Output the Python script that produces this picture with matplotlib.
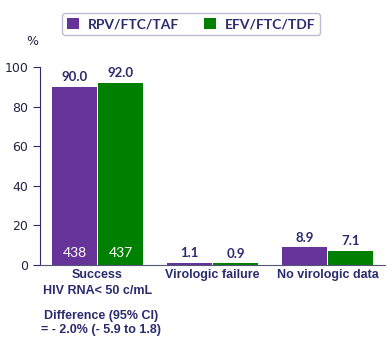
import matplotlib
matplotlib.use('Agg')
import matplotlib.pyplot as plt
import numpy as np

categories = ['Success\nHIV RNA< 50 c/mL', 'Virologic failure', 'No virologic data']
rpv = [90.0, 1.1, 8.9]
efv = [92.0, 0.9, 7.1]
n_counts = ['438', '437']
series_names = ['RPV/FTC/TAF', 'EFV/FTC/TDF']

purple = '#663399'
green = '#008000'
navy = '#2b2b6e'

fig = plt.figure(figsize=(3.92, 3.41), dpi=100)
ax = fig.add_axes([0.102, 0.223, 0.88, 0.58])

x = np.arange(len(categories))
w = 0.385
b1 = ax.bar(x - 0.2, rpv, w, color=purple, label=series_names[0])
b2 = ax.bar(x + 0.2, efv, w, color=green, label=series_names[1])

for bars in (b1, b2):
    for rect in bars:
        h = rect.get_height()
        ax.text(rect.get_x() + rect.get_width() / 2, h + 1.8, '%.1f' % h,
                ha='center', va='bottom', fontsize=9.5, fontweight='bold',
                color=navy, family='Lato')

# patient counts inside the success bars
for rect, n in zip([b1[0], b2[0]], n_counts):
    ax.text(rect.get_x() + rect.get_width() / 2, 6, n, ha='center', va='center',
            fontsize=10, color='white', family='Lato')

ax.set_xlim(-0.5, 2.5)
ax.set_ylim(0, 100)
ax.set_yticks([0, 20, 40, 60, 80, 100])
ax.set_xticks(x)
ax.set_xticklabels(categories, fontsize=9, fontweight='bold', color=navy,
                   family='Liberation Sans', linespacing=1.45)
ax.tick_params(axis='x', length=0, pad=3)
ax.tick_params(axis='y', labelsize=9, colors=navy, length=5, direction='out')
for lab in ax.get_yticklabels():
    lab.set_color('#222244')
for s in ['top', 'right']:
    ax.spines[s].set_visible(False)
ax.spines['left'].set_color(navy)
ax.spines['bottom'].set_color('#555577')

fig.text(0.082, 0.868, '%', fontsize=9, color='#222244', ha='center')
fig.text(0.258, 0.053, 'Difference (95% CI)\n= - 2.0% (- 5.9 to 1.8)', ha='center',
         va='center', fontsize=9, fontweight='bold', color=navy,
         family='Liberation Sans', linespacing=1.3)

leg = fig.legend(loc='center', bbox_to_anchor=(0.487, 0.93), ncol=2, frameon=True,
                 prop={'family': 'Lato', 'weight': 'bold', 'size': 10},
                 handlelength=0.9, handleheight=0.9, columnspacing=1.8,
                 handletextpad=0.6, borderpad=0.35, fancybox=True)
leg.get_frame().set_edgecolor('#aaaacc')
for t in leg.get_texts():
    t.set_color(navy)

fig.savefig('out.png', dpi=100)
